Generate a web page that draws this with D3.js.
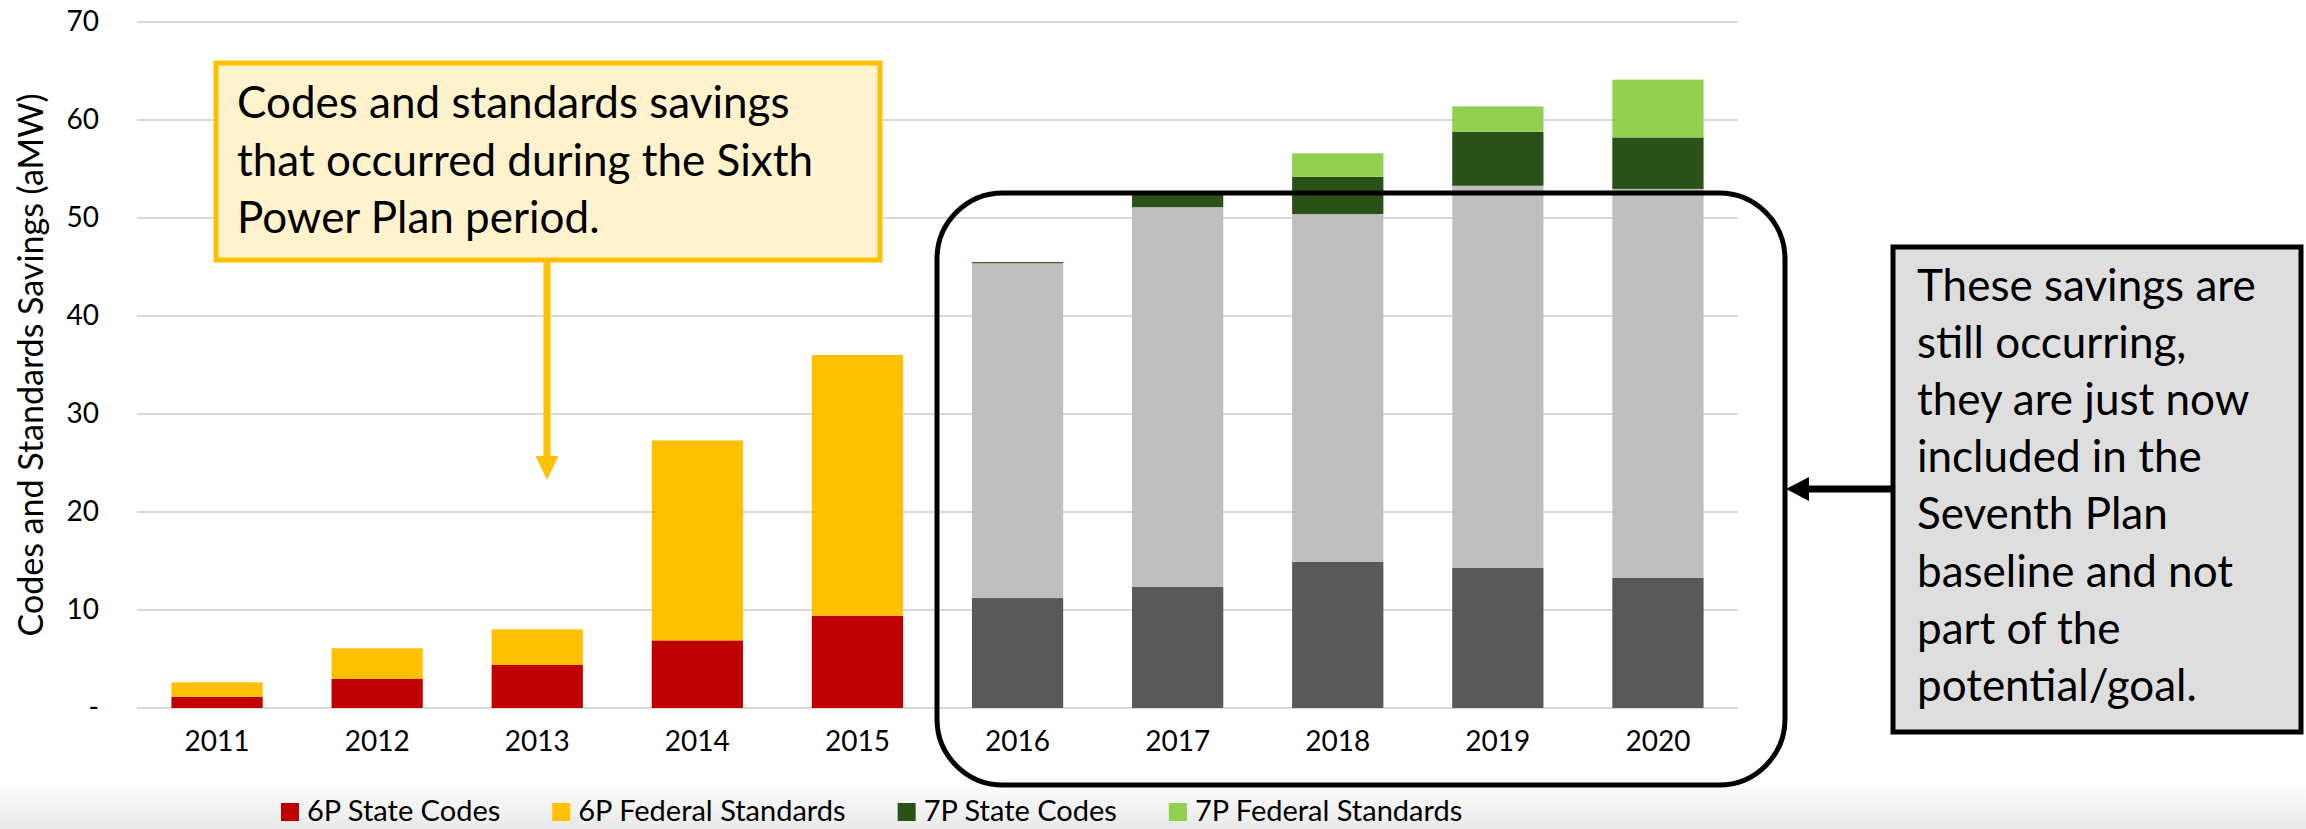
<!DOCTYPE html>
<html>
<head>
<meta charset="utf-8">
<script src="https://cdn.jsdelivr.net/npm/d3@7"></script>
<style>
  html, body { margin: 0; padding: 0; background: #fff; }
  svg { display: block; font-family: Lato, "Open Sans", sans-serif; }
</style>
</head>
<body>
<svg id="chart" width="2306" height="829"></svg>
<script>
// === Data ===
const years = ['2011', '2012', '2013', '2014', '2015', '2016', '2017', '2018', '2019', '2020'];
// plan period each year's 6P savings belong to ('7P' = now in Seventh Plan baseline, drawn grey)
const period = ['6P', '6P', '6P', '6P', '6P', '7P', '7P', '7P', '7P', '7P'];

const state6P = [1.15, 2.96, 4.39, 6.9, 9.42, 11.22, 12.35, 14.9, 14.29, 13.27];
const federal6P = [1.47, 3.13, 3.64, 20.4, 26.6, 34.16, 38.75, 35.5, 39.0, 39.7];
const state7P = [0, 0, 0, 0, 0, 0.12, 1.5, 3.8, 5.5, 5.25];
const federal7P = [0, 0, 0, 0, 0, 0, 0, 2.4, 2.6, 5.9];

const yTicks = [0, 10, 20, 30, 40, 50, 60, 70];

const seriesDefs = [
    { key: 'state6P', label: '6P State Codes', color: '#C00000', baseColor: '#595959' },
    { key: 'federal6P', label: '6P Federal Standards', color: '#FFC000', baseColor: '#BFBFBF' },
    { key: 'state7P', label: '7P State Codes', color: '#2A5118', baseColor: '#2A5118' },
    { key: 'federal7P', label: '7P Federal Standards', color: '#92D050', baseColor: '#92D050' },
];

const noteLeft = ['Codes and standards savings', 'that occurred during the Sixth', 'Power Plan period.'];
const noteRight = ['These savings are', 'still occurring,', 'they are just now', 'included in the',
    'Seventh Plan', 'baseline and not', 'part of the', 'potential/goal.'];

(function () {
    const svg = d3.select('#chart');
    const W = 2306, H = 829;
    const plot = { left: 137, right: 1738, top: 22, bottom: 708 };

    const rows = years.map((y, i) => ({
        year: y, period: period[i],
        state6P: state6P[i], federal6P: federal6P[i], state7P: state7P[i], federal7P: federal7P[i]
    }));

    // bottom legend band
    const defs = svg.append('defs');
    const grad = defs.append('linearGradient').attr('id', 'band').attr('x1', 0).attr('y1', 0).attr('x2', 0).attr('y2', 1);
    grad.append('stop').attr('offset', '0%').attr('stop-color', '#fbfbfb');
    grad.append('stop').attr('offset', '100%').attr('stop-color', '#e9e9e9');
    svg.append('rect').attr('x', 0).attr('y', 788).attr('width', W).attr('height', H - 788).attr('fill', 'url(#band)');

    const x = d3.scaleBand().domain(years).range([plot.left, plot.right]).paddingInner(0.43).paddingOuter(0.215);
    const y = d3.scaleLinear().domain([0, 70]).range([plot.bottom, plot.top]);

    // gridlines
    svg.append('g').selectAll('line').data(yTicks).join('line')
        .attr('x1', plot.left).attr('x2', plot.right)
        .attr('y1', d => y(d)).attr('y2', d => y(d))
        .attr('stroke', '#d9d9d9').attr('stroke-width', 2);

    // y axis
    const yAxis = svg.append('g')
        .attr('transform', `translate(${plot.left - 38},0)`)
        .call(d3.axisLeft(y).tickValues(yTicks).tickSize(0).tickPadding(0)
            .tickFormat(d => d === 0 ? '-' : d));
    yAxis.select('.domain').remove();
    yAxis.selectAll('text').attr('font-size', 28).attr('fill', '#000')
        .attr('font-family', 'Lato, sans-serif').attr('text-anchor', 'end');

    // x axis labels
    const xAxis = svg.append('g')
        .attr('transform', `translate(0,${plot.bottom + 23})`)
        .call(d3.axisBottom(x).tickSize(0).tickPadding(0));
    xAxis.select('.domain').remove();
    xAxis.selectAll('text').attr('font-size', 28).attr('fill', '#000')
        .attr('font-family', 'Lato, sans-serif');

    // y axis title
    svg.append('text')
        .attr('transform', `translate(43,${(plot.top + plot.bottom) / 2}) rotate(-90)`)
        .attr('text-anchor', 'middle')
        .attr('font-size', 34)
        .attr('fill', '#000')
        .text('Codes and Standards Savings (aMW)');

    // stacked bars
    const stack = d3.stack().keys(seriesDefs.map(s => s.key));
    const stacked = stack(rows);
    svg.append('g').selectAll('g').data(stacked).join('g')
        .each(function (layer, li) {
            const def = seriesDefs[li];
            d3.select(this).selectAll('rect').data(layer).join('rect')
                .attr('x', d => x(d.data.year))
                .attr('width', x.bandwidth())
                .attr('y', d => y(d[1]))
                .attr('height', d => y(d[0]) - y(d[1]))
                .attr('fill', d => d.data.period === '7P' ? def.baseColor : def.color);
        });

    // legend
    const legend = svg.append('g').attr('transform', 'translate(281,821)');
    let lx = 0;
    seriesDefs.forEach(s => {
        const g = legend.append('g').attr('transform', `translate(${lx},0)`);
        g.append('rect').attr('x', 0).attr('y', -18).attr('width', 18).attr('height', 18).attr('fill', s.color);
        const t = g.append('text').attr('x', 26).attr('y', 0).attr('font-size', 29).attr('fill', '#000').text(s.label);
        lx += 26 + t.node().getComputedTextLength() + 52;
    });

    // left annotation: yellow callout with arrow
    const noteL = svg.append('g');
    noteL.append('line')
        .attr('x1', 547).attr('x2', 547).attr('y1', 262).attr('y2', 458)
        .attr('stroke', '#FFC000').attr('stroke-width', 7);
    noteL.append('path')
        .attr('d', 'M535.5,456 L558.5,456 L547,480 Z')
        .attr('fill', '#FFC000');
    noteL.append('rect')
        .attr('x', 216).attr('y', 63).attr('width', 664).attr('height', 197)
        .attr('fill', '#FFF2CC').attr('stroke', '#FFC000').attr('stroke-width', 5);
    noteL.append('g').selectAll('text').data(noteLeft).join('text')
        .attr('x', 237).attr('y', (d, i) => 118 + i * 57.5)
        .attr('font-size', 44).attr('fill', '#000')
        .text(d => d);

    // rounded frame around 2016-2020
    svg.append('rect')
        .attr('x', 937).attr('y', 193).attr('width', 848).attr('height', 592)
        .attr('rx', 66).attr('ry', 66)
        .attr('fill', 'none').attr('stroke', '#000').attr('stroke-width', 5);

    // right annotation: grey box with arrow
    const noteR = svg.append('g');
    noteR.append('line')
        .attr('x1', 1893).attr('x2', 1805).attr('y1', 489).attr('y2', 489)
        .attr('stroke', '#000').attr('stroke-width', 7);
    noteR.append('path')
        .attr('d', 'M1809,477 L1809,501 L1786,489 Z')
        .attr('fill', '#000');
    noteR.append('rect')
        .attr('x', 1893).attr('y', 247).attr('width', 408).attr('height', 485)
        .attr('fill', '#DEDEDE').attr('stroke', '#000').attr('stroke-width', 5);
    noteR.append('g').selectAll('text').data(noteRight).join('text')
        .attr('x', 1917).attr('y', (d, i) => 301 + i * 57.1)
        .attr('font-size', 44).attr('fill', '#000')
        .text(d => d);
})();
</script>
</body>
</html>
